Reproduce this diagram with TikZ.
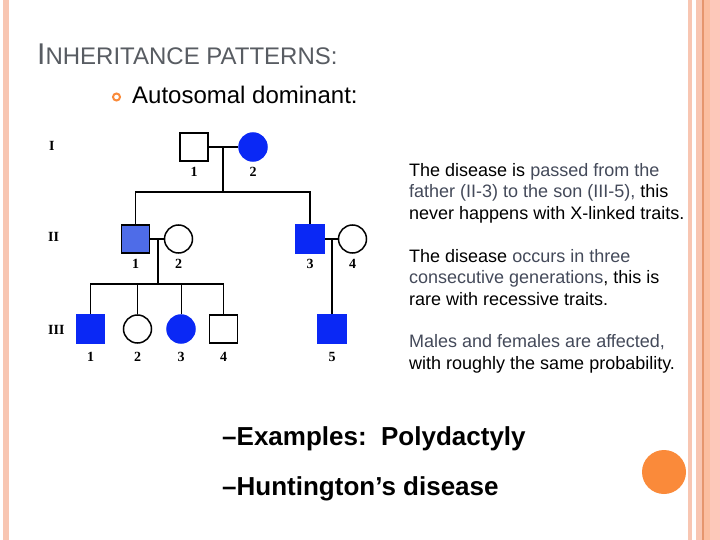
\documentclass[tikz,border=0pt]{standalone}
\usepackage{fontspec}
\setmainfont{Liberation Sans}
\newfontfamily\pedfont{Liberation Serif}
\usetikzlibrary{positioning}
\definecolor{pedblue}{RGB}{10,40,245}
\definecolor{pedlight}{RGB}{78,108,232}
\definecolor{titlegray}{RGB}{88,92,98}
\definecolor{txtgray}{RGB}{68,74,90}
\definecolor{peach}{RGB}{248,198,178}
\definecolor{peachdark}{RGB}{230,150,110}
\definecolor{peachmid}{RGB}{251,190,160}
\definecolor{peachpink}{RGB}{253,200,186}
\definecolor{dotorange}{RGB}{250,138,58}
\begin{document}
\begin{tikzpicture}[x=1pt, y=-1pt,
        male/.style={rectangle, draw=black, line width=1.5pt, fill=white, minimum size=28pt, inner sep=0pt},
        female/.style={circle, draw=black, line width=1.5pt, fill=white, minimum size=28pt, inner sep=0pt},
        sick/.style={draw=pedblue, fill=pedblue},
        num/.style={font=\pedfont\bfseries\fontsize{14}{14}\selectfont, inner sep=0pt},
        gen/.style={font=\pedfont\bfseries\fontsize{14}{14}\selectfont, anchor=west, inner sep=0pt},
        pline/.style={line width=1.5pt},
        note/.style={anchor=base west, align=left, inner sep=0pt, font=\fontsize{18}{21.5}\selectfont},
        node distance=5pt
    ]
    \useasboundingbox (0,0) rectangle (720,540);
    \fill[white] (0,0) rectangle (720,540);

    % side stripes
    \fill[peach] (3,0) rectangle (9,540);
    \fill[peach] (688,0) rectangle (692,540);
    \fill[peach] (696,0) rectangle (702,540);
    \fill[peachdark] (702,0) rectangle (703.5,540);
    \fill[peachmid] (703.5,0) rectangle (710,540);
    \fill[peachpink] (710,0) rectangle (720,540);

    % title and bullet
    \node[anchor=base west, inner sep=0pt, text=titlegray] (title) at (37,65)
        {\fontsize{30}{30}\selectfont I\fontsize{24}{24}\selectfont NHERITANCE PATTERNS:};
    \node[circle, draw=dotorange, line width=2pt, minimum size=7pt, inner sep=0pt] (bullet) at (116.5,97) {};
    \node[anchor=base west, inner sep=0pt, font=\fontsize{24}{24}\selectfont] (topic) at (132,104) {Autosomal dominant:};

    % generations
    \node[gen] (g1) at (49,146) {I};
    \node[gen] (g2) at (48,237) {II};
    \node[gen] (g3) at (48,330) {III};

    % generation I
    \node[male] (I1) at (194,147) {};
    \node[female, sick] (I2) at (253,147) {};
    \node[num, below=5pt of I1] (nI1) {1};
    \node[num, below=5pt of I2] (nI2) {2};

    % generation II
    \node[male, fill=pedlight] (II1) at (135.5,239) {};
    \node[female] (II2) at (178.5,239) {};
    \node[male, sick] (II3) at (310,239) {};
    \node[female] (II4) at (352.5,239) {};
    \node[num, below=5pt of II1] (nII1) {1};
    \node[num, below=5pt of II2] (nII2) {2};
    \node[num, below=5pt of II3] (nII3) {3};
    \node[num, below=5pt of II4] (nII4) {4};

    % generation III
    \node[male, sick] (III1) at (90.5,329) {};
    \node[female] (III2) at (137.5,329) {};
    \node[female, sick] (III3) at (181,329) {};
    \node[male] (III4) at (223.5,329) {};
    \node[male, sick] (III5) at (332,329) {};
    \node[num, below=8pt of III1] (nIII1) {1};
    \node[num, below=8pt of III2] (nIII2) {2};
    \node[num, below=8pt of III3] (nIII3) {3};
    \node[num, below=8pt of III4] (nIII4) {4};
    \node[num, below=8pt of III5] (nIII5) {5};

    % matings and sibships
    \coordinate (m1) at (223,147);
    \coordinate (s1) at (223,192);
    \coordinate (m2) at (158,239);
    \coordinate (s2) at (158,284);
    \coordinate (m3) at (332,239);
    \draw[pline] (I1) -- (I2);
    \draw[pline] (m1) -- (s1);
    \draw[pline] (II1.north) |- (s1) -| (II3.north);
    \draw[pline] (II1) -- (II2);
    \draw[pline] (m2) -- (s2);
    \draw[pline] (III1.north) |- (s2) -| (III4.north);
    \draw[pline] (III2.north) -- (III2.north |- s2);
    \draw[line width=0.9pt] (III3.north) -- (III3.north |- s2);
    \draw[pline] (II3) -- (II4);
    \draw[pline] (m3) -- (III5.north);

    % notes (base = last line)
    \node[note] (note1) at (409,219) {The disease is \textcolor{txtgray}{passed from the}\\
        \textcolor{txtgray}{father (II-3) to the son (III-5),} this\\
        never happens with X-linked traits.};
    \node[note] (note2) at (409,305) {The disease \textcolor{txtgray}{occurs in three}\\
        \textcolor{txtgray}{consecutive generations}, this is\\
        rare with recessive traits.};
    \node[note] (note3) at (409,369) {\textcolor{txtgray}{Males and females are affected,}\\
        with roughly the same probability.};

    % examples
    \node[anchor=base west, inner sep=0pt, font=\bfseries\fontsize{26}{26}\selectfont] (ex1) at (222,445) {–Examples:\ \ Polydactyly};
    \node[anchor=base west, inner sep=0pt, font=\bfseries\fontsize{26}{26}\selectfont] (ex2) at (222,495) {–Huntington’s disease};

    \node[circle, fill=dotorange, minimum size=44pt, inner sep=0pt] (dot) at (664,472) {};
\end{tikzpicture}
\end{document}
